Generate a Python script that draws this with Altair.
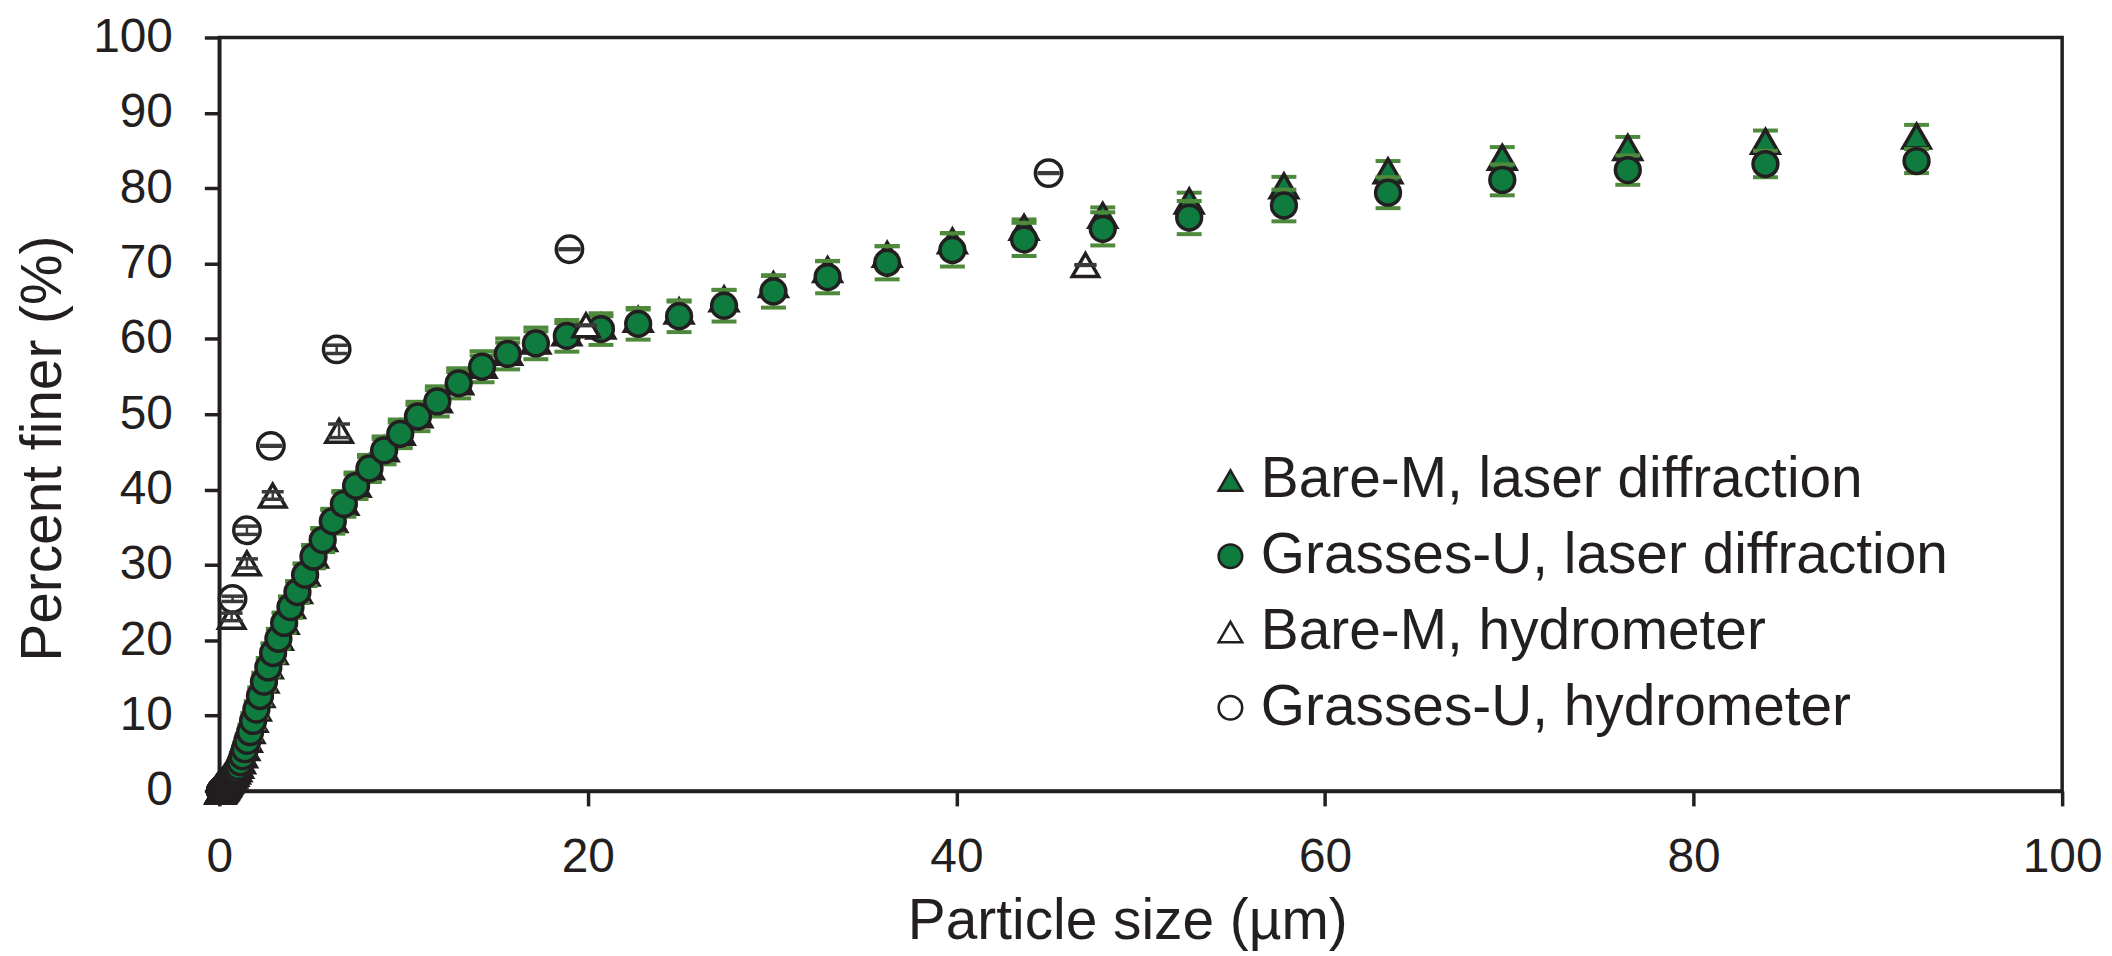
import altair as alt
import pandas as pd

# ---------------- data ----------------
sizes = [0.040, 0.044, 0.048, 0.053, 0.058, 0.064, 0.070, 0.077, 0.084, 0.093,
         0.102, 0.112, 0.122, 0.134, 0.148, 0.162, 0.178, 0.195, 0.214, 0.235,
         0.258, 0.284, 0.311, 0.342, 0.375, 0.412, 0.452, 0.496, 0.545, 0.598,
         0.656, 0.721, 0.791, 0.868, 0.953, 1.047, 1.149, 1.261, 1.385, 1.520,
         1.669, 1.832, 2.011, 2.208, 2.423, 2.660, 2.920, 3.206, 3.519, 3.863,
         4.241, 4.656, 5.111, 5.611, 6.159, 6.761, 7.422, 8.148, 8.944, 9.819,
         10.78, 11.83, 12.99, 14.26, 15.65, 17.18, 18.86, 20.71, 22.73, 24.95,
         27.39, 30.07, 33.01, 36.24, 39.78, 43.67, 47.94, 52.63, 57.77, 63.42,
         69.62, 76.43, 83.90, 92.10]

grasses_laser = [0.0, 0.0, 0.0, 0.0, 0.0, 0.01, 0.01, 0.02, 0.03, 0.05,
                 0.07, 0.10, 0.14, 0.18, 0.22, 0.26, 0.30, 0.35, 0.40, 0.45,
                 0.50, 0.60, 0.70, 0.80, 0.90, 1.05, 1.20, 1.35, 1.50, 1.65,
                 1.80, 2.00, 2.20, 2.50, 2.80, 3.20, 3.80, 4.60, 5.55, 6.65,
                 7.80, 9.30, 10.8, 12.6, 14.5, 16.4, 18.3, 20.2, 22.3, 24.4,
                 26.4, 28.7, 31.1, 33.3, 35.8, 38.1, 40.5, 42.8, 45.2, 47.4,
                 49.7, 51.7, 54.1, 56.3, 58.0, 59.4, 60.4, 61.3, 62.0, 63.0,
                 64.4, 66.3, 68.2, 70.1, 71.8, 73.2, 74.6, 76.1, 77.7, 79.4,
                 81.1, 82.4, 83.2, 83.6]
grasses_sd = [0.0, 0.0, 0.0, 0.0, 0.0, 0.0, 0.0, 0.01, 0.01, 0.02,
              0.02, 0.03, 0.04, 0.05, 0.06, 0.07, 0.08, 0.09, 0.10, 0.11,
              0.12, 0.14, 0.16, 0.18, 0.20, 0.22, 0.25, 0.28, 0.30, 0.33,
              0.36, 0.40, 0.44, 0.48, 0.52, 0.58, 0.65, 0.72, 0.80, 0.88,
              0.95, 1.00, 1.05, 1.10, 1.15, 1.20, 1.25, 1.30, 1.35, 1.40,
              1.45, 1.50, 1.55, 1.60, 1.65, 1.70, 1.75, 1.80, 1.85, 1.90,
              1.95, 2.00, 2.00, 2.05, 2.05, 2.10, 2.10, 2.10, 2.10, 2.10,
              2.10, 2.15, 2.15, 2.20, 2.20, 2.20, 2.20, 2.20, 2.10, 2.05,
              2.05, 1.95, 1.75, 1.60]

bare_laser = [0.0, 0.0, 0.0, 0.0, 0.0, 0.01, 0.01, 0.02, 0.03, 0.05,
              0.08, 0.11, 0.15, 0.19, 0.23, 0.28, 0.32, 0.37, 0.42, 0.48,
              0.54, 0.64, 0.75, 0.86, 0.97, 1.12, 1.28, 1.44, 1.60, 1.76,
              1.92, 2.12, 2.35, 2.65, 2.95, 3.40, 4.00, 4.80, 5.75, 6.85,
              8.00, 9.50, 11.0, 12.8, 14.7, 16.6, 18.5, 20.4, 22.5, 24.6,
              26.6, 28.9, 31.3, 33.5, 36.0, 38.3, 40.7, 43.0, 45.4, 47.6,
              49.9, 51.9, 54.3, 56.5, 58.2, 59.7, 60.8, 61.7, 62.6, 63.7,
              65.3, 67.2, 69.2, 71.2, 73.0, 74.8, 76.4, 78.3, 80.3, 82.3,
              84.1, 85.4, 86.2, 86.9]
bare_sd = [0.0, 0.0, 0.0, 0.0, 0.0, 0.0, 0.0, 0.01, 0.01, 0.02,
           0.02, 0.03, 0.04, 0.05, 0.06, 0.07, 0.08, 0.09, 0.10, 0.11,
           0.12, 0.13, 0.15, 0.17, 0.19, 0.21, 0.23, 0.25, 0.28, 0.30,
           0.33, 0.36, 0.40, 0.44, 0.48, 0.52, 0.58, 0.64, 0.70, 0.76,
           0.82, 0.88, 0.92, 0.96, 1.00, 1.04, 1.08, 1.12, 1.15, 1.18,
           1.20, 1.22, 1.24, 1.26, 1.28, 1.30, 1.30, 1.30, 1.30, 1.30,
           1.30, 1.30, 1.30, 1.30, 1.30, 1.30, 1.30, 1.30, 1.30, 1.25,
           1.20, 1.15, 1.10, 1.10, 1.05, 1.05, 1.05, 1.10, 1.20, 1.30,
           1.35, 1.40, 1.45, 1.50]

hyd_bare_x = [0.67, 1.5, 2.9, 6.5, 19.9, 47.0]
hyd_bare_y = [23.1, 30.2, 39.2, 47.8, 61.8, 69.8]
hyd_bare_sd = [0.5, 0.6, 0.5, 0.9, 0.05, 0.05]

hyd_grass_x = [0.72, 1.5, 2.8, 6.37, 19.0, 45.0]
hyd_grass_y = [25.5, 34.6, 45.8, 58.6, 71.9, 82.0]
hyd_grass_sd = [0.35, 0.55, 0.05, 0.55, 0.05, 0.05]

series_names = ["Bare-M, laser diffraction", "Grasses-U, laser diffraction",
                "Bare-M, hydrometer", "Grasses-U, hydrometer"]

x_ticks = [0, 20, 40, 60, 80, 100]
y_ticks = [0, 10, 20, 30, 40, 50, 60, 70, 80, 90, 100]

# ---------------- styles ----------------
INK = "#231f20"
GREEN = "#0f7b3f"
ERR_GREEN = "#4f8a3c"
ERR_DARK = "#3a3a3a"
FONT = "Liberation Sans"


def frame(xs, ys, sds, name):
    df = pd.DataFrame({"size": xs, "pf": ys, "sd": sds})
    df["lo"] = df["pf"] - df["sd"]
    df["hi"] = df["pf"] + df["sd"]
    df["series"] = name
    return df


bare_df = frame(sizes, bare_laser, bare_sd, series_names[0])
grass_df = frame(sizes, grasses_laser, grasses_sd, series_names[1])
hyd_df = pd.concat([frame(hyd_bare_x, hyd_bare_y, hyd_bare_sd, series_names[2]),
                    frame(hyd_grass_x, hyd_grass_y, hyd_grass_sd, series_names[3])],
                   ignore_index=True)

x_enc = alt.X("size:Q", scale=alt.Scale(domain=[0, 100], nice=False),
              axis=alt.Axis(values=x_ticks, title="Particle size (µm)",
                            labelFlush=False, labelOverlap=False,
                            labelBaseline="alphabetic", labelPadding=66,
                            titleBaseline="alphabetic", titleX=911, titleY=148))
y_scale = alt.Scale(domain=[0, 100], nice=False)
y_axis = alt.Axis(values=y_ticks, title="Percent finer (%)", labelPadding=32,
                  titleBaseline="alphabetic", titleX=-159, titleY=412, titleAngle=270)

legend = alt.Legend(orient="none", legendX=986, legendY=416, title=None,
                    labelFontSize=57, labelFont=FONT, labelColor=INK,
                    labelLimit=2000, labelOffset=2, rowPadding=18,
                    symbolSize=560, symbolStrokeWidth=2.5,
                    padding=0)
shape_enc = alt.Shape("series:N", legend=legend,
                      scale=alt.Scale(domain=series_names,
                                      range=["triangle-up", "circle", "triangle-up", "circle"]))
fill_enc = alt.Fill("series:N", legend=legend,
                    scale=alt.Scale(domain=series_names,
                                    range=[GREEN, GREEN, "white", "white"]))
stroke_enc = alt.Stroke("series:N", legend=legend,
                        scale=alt.Scale(domain=series_names,
                                        range=[INK, INK, INK, INK]))


def errbars(df, color, cap, thick, stem):
    base = alt.Chart(df)
    rule = base.mark_rule(color=color, strokeWidth=stem).encode(
        x=x_enc, y=alt.Y("lo:Q", scale=y_scale, axis=y_axis), y2="hi:Q")
    caps = base.transform_fold(["lo", "hi"], as_=["end", "val"]).mark_tick(
        orient="horizontal", size=cap, thickness=thick, color=color, opacity=1
    ).encode(x=x_enc, y=alt.Y("val:Q", scale=y_scale, axis=y_axis))
    return rule + caps


def points(df, size):
    return alt.Chart(df).mark_point(filled=True, strokeWidth=3.5,
                                    size=size, opacity=1).encode(
        x=x_enc, y=alt.Y("pf:Q", scale=y_scale, axis=y_axis),
        shape=shape_enc, fill=fill_enc, stroke=stroke_enc)


chart = alt.layer(
    errbars(bare_df, ERR_GREEN, 25, 4, 2.5),
    points(bare_df, 760),
    errbars(grass_df, ERR_GREEN, 25, 4, 2.5),
    points(grass_df, 620),
    points(hyd_df, 700),
    errbars(hyd_df, ERR_DARK, 22, 3.5, 2.5),
).properties(
    width=1849, height=756,
    autosize=alt.AutoSizeParams(type="none"),
    padding={"left": 212, "top": 28, "right": 42, "bottom": 160},
).configure_view(
    stroke=INK, strokeWidth=3.5
).configure_axis(
    grid=False, domainColor=INK, domainWidth=3.5, tickColor=INK, tickWidth=3.5,
    tickSize=15, labelFont=FONT, labelFontSize=48, labelColor=INK,
    titleFont=FONT, titleFontSize=57, titleFontWeight="normal", titleColor=INK,
)

chart.save("out.html", embed_options={"renderer": "svg", "actions": False})
